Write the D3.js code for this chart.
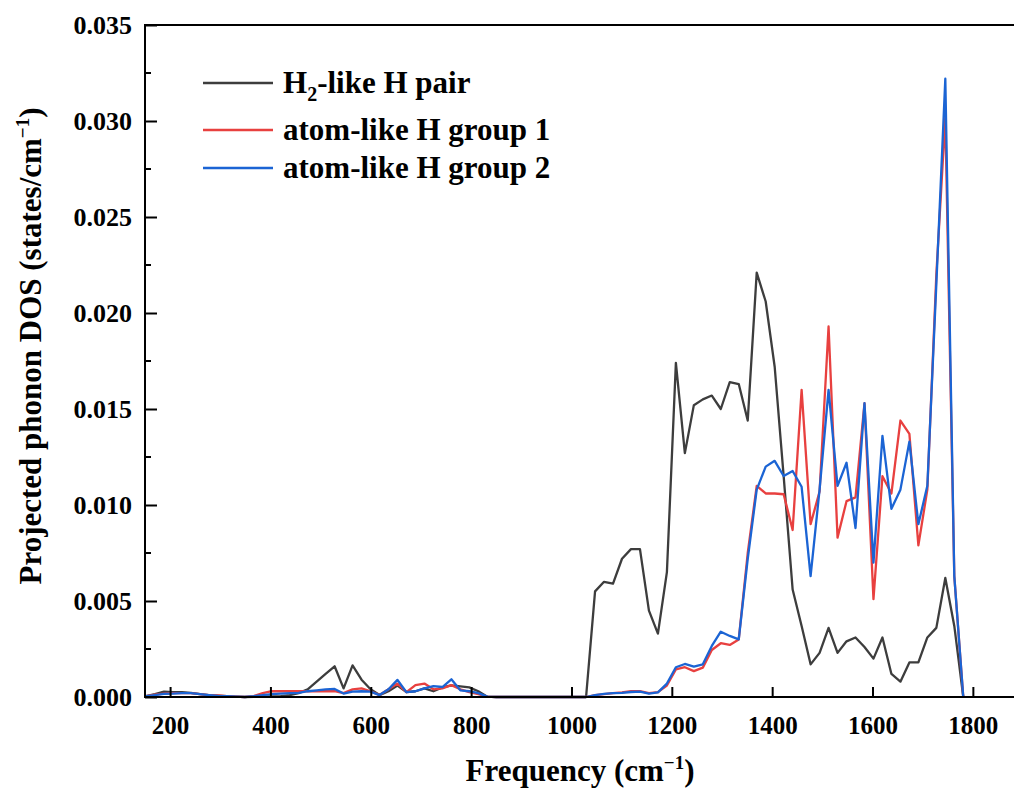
<!DOCTYPE html>
<html>
<head>
<meta charset="utf-8">
<script src="https://cdn.jsdelivr.net/npm/d3@7/dist/d3.min.js"></script>
<style>
  body { margin: 0; background: #fff; }
  text { font-family: "Liberation Serif", "Times New Roman", serif; font-weight: bold; fill: #000; }
</style>
</head>
<body>
<svg id="chart"></svg>
<script>
// frequency grid (cm^-1)
const frequency = [
  152, 169.9, 187.8, 205.7, 223.6, 241.5, 259.4, 277.3, 295.2, 313.1,
  331, 348.9, 366.8, 384.7, 402.6, 420.5, 438.4, 456.3, 474.2, 492.1,
  510, 527.9, 545.8, 563.7, 581.6, 599.5, 617.4, 635.3, 653.2, 671.1,
  689, 706.9, 724.8, 742.7, 760.6, 778.5, 796.4, 814.3, 832.2, 850.1,
  868, 885.9, 903.8, 921.7, 939.6, 957.5, 975.4, 993.3, 1011.2, 1029.1,
  1047, 1064.9, 1082.8, 1100.7, 1118.6, 1136.5, 1154.4, 1172.3, 1190.2, 1208.1,
  1226, 1243.9, 1261.8, 1279.7, 1297.6, 1315.5, 1333.4, 1351.3, 1369.2, 1387.1,
  1405, 1422.9, 1440.8, 1458.7, 1476.6, 1494.5, 1512.4, 1530.3, 1548.2, 1566.1,
  1584, 1601.9, 1619.8, 1637.7, 1655.6, 1673.5, 1691.4, 1709.3, 1727.2, 1745.1,
  1763, 1780.9
];

const h2Pair = [
  0.00005, 0.00015, 0.00028, 0.00025, 0.00025, 0.00022, 0.00015, 0.0001, 0.00007, 0.00005,
  0.00002, 0, 0.00001, 0.00002, 0.00003, 0.00005, 0.0001, 0.0002, 0.0004, 0.0008,
  0.0012, 0.0016, 0.00045, 0.00165, 0.0009, 0.0004, 0.0001, 0.0003, 0.0006, 0.00025,
  0.0003, 0.00045, 0.0003, 0.0005, 0.0006, 0.00055, 0.0005, 0.0003, 0.00002, 0,
  0, 0, 0, 0, 0, 0, 0, 0, 0, 0,
  0.0055, 0.0060, 0.0059, 0.0072, 0.0077, 0.0077, 0.0045, 0.0033, 0.0065, 0.0174,
  0.0127, 0.0152, 0.0155, 0.0157, 0.0150, 0.0164, 0.0163, 0.0144, 0.0221, 0.0206,
  0.0172, 0.0115, 0.0056, 0.0037, 0.0017, 0.0023, 0.0036, 0.0023, 0.0029, 0.0031,
  0.0026, 0.0020, 0.0031, 0.0012, 0.0008, 0.0018, 0.0018, 0.0031, 0.0036, 0.0062,
  0.0037, 0
];

const atomGroup1 = [
  0.00005, 0.00012, 0.00018, 0.0002, 0.0002, 0.0002, 0.00015, 0.0001, 0.00008, 0.00004,
  0.00002, 0, 0.00005, 0.0002, 0.0003, 0.0003, 0.0003, 0.0003, 0.0003, 0.0003,
  0.0003, 0.0003, 0.0002, 0.0004, 0.00045, 0.0003, 0.0001, 0.0004, 0.0007, 0.00025,
  0.00062, 0.0007, 0.0004, 0.00045, 0.00062, 0.0004, 0.00025, 0.00015, 0.00002, 0,
  0, 0, 0, 0, 0, 0, 0, 0, 0, 0,
  0.0001, 0.00015, 0.0002, 0.00024, 0.0003, 0.0003, 0.0002, 0.00025, 0.0006, 0.00144,
  0.00155, 0.00135, 0.00153, 0.00245, 0.0028, 0.00271, 0.0030, 0.0075, 0.0110, 0.0106,
  0.0106, 0.01056, 0.0087, 0.0160, 0.0090, 0.0107, 0.0193, 0.0083, 0.0102, 0.0104,
  0.0153, 0.0051, 0.0115, 0.0106, 0.0144, 0.0137, 0.0079, 0.0108, 0.0220, 0.0302,
  0.0063, 0
];

const atomGroup2 = [
  0.00005, 0.0001, 0.00016, 0.00018, 0.0002, 0.0002, 0.00015, 0.0001, 0.00006, 0.00004,
  0.00002, 0, 0.00004, 0.0001, 0.00015, 0.00018, 0.0002, 0.00022, 0.0003, 0.00035,
  0.0004, 0.00042, 0.00018, 0.00028, 0.0003, 0.00028, 0.0001, 0.0004, 0.00089, 0.00025,
  0.0003, 0.00045, 0.00057, 0.00052, 0.00092, 0.00035, 0.0003, 0.0002, 0.00002, 0,
  0, 0, 0, 0, 0, 0, 0, 0, 0, 0,
  0.0001, 0.00016, 0.0002, 0.00022, 0.00026, 0.00028, 0.00018, 0.00024, 0.0007, 0.00155,
  0.00172, 0.00158, 0.0017, 0.00266, 0.0034, 0.00318, 0.0030, 0.0072, 0.0108, 0.0120,
  0.0123, 0.01151, 0.01177, 0.01095, 0.0063, 0.0108, 0.0160, 0.0110, 0.0122, 0.0088,
  0.0153, 0.0070, 0.0136, 0.0098, 0.0108, 0.0133, 0.0090, 0.0110, 0.0215, 0.0322,
  0.0063, 0
];

const seriesLabels = ["H_2-like H pair", "atom-like H group 1", "atom-like H group 2"];
const seriesColors = ["#3d3d3d", "#e8403f", "#1b64d4"];
const xTicks = [200, 400, 600, 800, 1000, 1200, 1400, 1600, 1800];
const yTicks = [0, 0.005, 0.010, 0.015, 0.020, 0.025, 0.030, 0.035];
const yMinorTicks = [0.0025, 0.0075, 0.0125, 0.0175, 0.0225, 0.0275, 0.0325];

function chartEntryPoint() {
  let svgSpec = {
    outerSize: { width: 1014, height: 789 },
    plot: { left: 145, right: 1013, top: 25, bottom: 697 }
  };
  new PhononDosChart({ svgSpec });
}

class PhononDosChart {
  constructor(props) {
    this.props = props;
    this.initVizSpace();
    this.initScale();
    this.drawLines();
    this.initAxis();
    this.initAxisLabels();
    this.drawLegend();
  }

  initVizSpace() {
    let size = this.props.svgSpec.outerSize;
    this.svg = d3.select("#chart")
      .attr("width", size.width)
      .attr("height", size.height);
  }

  initScale() {
    let p = this.props.svgSpec.plot;
    this.x = d3.scaleLinear().domain([150, 1880]).range([p.left, p.right]);
    this.y = d3.scaleLinear().domain([0, 0.035]).range([p.bottom, p.top]);
  }

  initAxis() {
    let p = this.props.svgSpec.plot;

    // bottom axis, ticks pointing inward
    let xAxis = this.svg.append("g")
      .attr("transform", `translate(0, ${p.bottom})`)
      .call(d3.axisBottom(this.x).tickValues(xTicks).tickFormat(d3.format("d"))
        .tickSizeInner(-10).tickSizeOuter(0).tickPadding(19))
    xAxis.select(".domain").attr("stroke-width", 2).attr("d", `M${p.left - 1},0H1014`);
    xAxis.selectAll(".tick line").attr("stroke-width", 2);
    xAxis.selectAll(".tick text").attr("font-size", 25).attr("dy", "0.71em")
      .style("font-family", '"Liberation Serif", serif').style("font-weight", "bold");

    // left axis
    let yAxis = this.svg.append("g")
      .attr("transform", `translate(${p.left}, 0)`)
      .call(d3.axisLeft(this.y).tickValues(yTicks).tickFormat(d3.format(".3f"))
        .tickSizeInner(-12).tickSizeOuter(0).tickPadding(13))
    yAxis.select(".domain").attr("stroke-width", 2).attr("d", `M0,${p.bottom + 1}V${p.top}`);
    yAxis.selectAll(".tick line").attr("stroke-width", 2);
    yAxis.selectAll(".tick text").attr("font-size", 26)
      .style("font-family", '"Liberation Serif", serif').style("font-weight", "bold");

    this.svg.append("g")
      .selectAll("line")
      .data(yMinorTicks)
      .join("line")
      .attr("x1", p.left).attr("x2", p.left + 6)
      .attr("y1", (d) => this.y(d)).attr("y2", (d) => this.y(d))
      .attr("stroke", "#000").attr("stroke-width", 2);

    // top border of the frame
    this.svg.append("line")
      .attr("x1", p.left - 1).attr("x2", 1014)
      .attr("y1", p.top).attr("y2", p.top)
      .attr("stroke", "#000").attr("stroke-width", 2);
  }

  initAxisLabels() {
    let p = this.props.svgSpec.plot;

    let xt = this.svg.append("text")
      .attr("x", 580)
      .attr("y", 781)
      .attr("text-anchor", "middle")
      .attr("font-size", 31);
    xt.append("tspan").text("Frequency (cm");
    xt.append("tspan").attr("font-size", 19).attr("dy", -12).text("\u22121");
    xt.append("tspan").attr("dy", 12).text(")");

    let yt = this.svg.append("text")
      .attr("transform", `translate(41, 346) rotate(-90)`)
      .attr("text-anchor", "middle")
      .attr("font-size", 31);
    yt.append("tspan").text("Projected phonon DOS (states/cm");
    yt.append("tspan").attr("font-size", 19).attr("dy", -12).text("\u22121");
    yt.append("tspan").attr("dy", 12).text(")");
  }

  drawLines() {
    let data = frequency.map((f, i) => ({ f, s: [h2Pair[i], atomGroup1[i], atomGroup2[i]] }));
    [0, 1, 2].forEach((k) => {
      let line = d3.line()
        .x((d) => this.x(d.f))
        .y((d) => this.y(d.s[k]));
      this.svg.append("path")
        .datum(data)
        .attr("d", line)
        .attr("fill", "none")
        .attr("stroke", seriesColors[k])
        .attr("stroke-width", 2.3)
        .attr("stroke-linejoin", "round");
    });
  }

  drawLegend() {
    let rowY = [83, 130, 168];
    seriesLabels.forEach((label, k) => {
      this.svg.append("line")
        .attr("x1", 203).attr("x2", 273)
        .attr("y1", rowY[k]).attr("y2", rowY[k])
        .attr("stroke", seriesColors[k]).attr("stroke-width", 2.3);
      let t = this.svg.append("text")
        .attr("x", 283).attr("y", rowY[k] + 10)
        .attr("font-size", 31);
      if (label.includes("_")) {
        let [head, rest] = label.split("_");
        t.append("tspan").text(head);
        t.append("tspan").attr("font-size", 20).attr("dy", 8).text(rest[0]);
        t.append("tspan").attr("dy", -8).text(rest.slice(1));
      } else {
        t.text(label);
      }
    });
  }
}

chartEntryPoint();
</script>
</body>
</html>
